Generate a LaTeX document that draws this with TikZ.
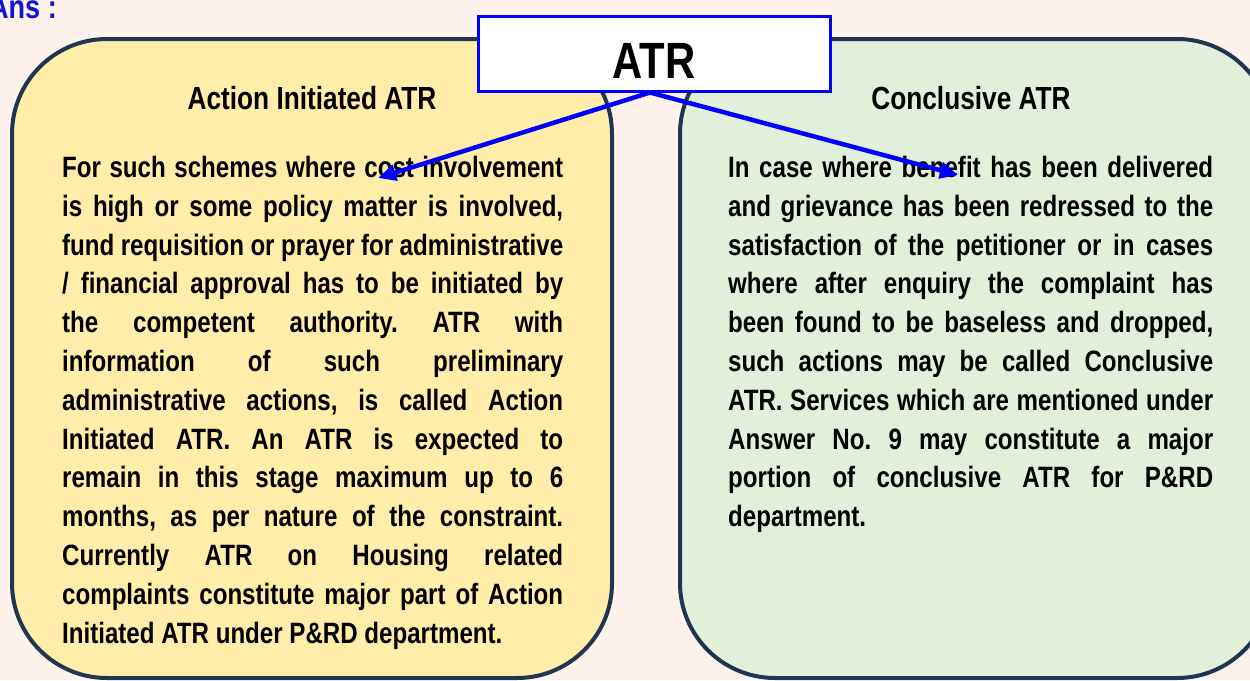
\documentclass[tikz,border=0pt]{standalone}
\usepackage{fontspec}
\setmainfont{Liberation Sans}[FakeStretch=0.82]
\usetikzlibrary{arrows.meta}
\definecolor{bgc}{HTML}{FDF3EC}
\definecolor{yelc}{HTML}{FFEDA9}
\definecolor{grnc}{HTML}{E2EFDA}
\definecolor{navyc}{HTML}{1F3552}
\definecolor{ansc}{HTML}{1414D2}
\frenchspacing
\newcommand\jline[2]{\makebox[#1][s]{#2}}
\tikzset{
  panel/.style={draw=navyc, line width=4pt, rounded corners=95pt},
  ttl/.style={font=\fontsize{32}{36}\selectfont\bfseries, anchor=base, inner sep=0},
  bodytxt/.style={font=\fontsize{29.4}{38.8}\selectfont\bfseries, align=left, anchor=north west, inner sep=0},
  arr/.style={draw=blue, line width=4.5pt, -{Triangle[length=18pt,width=16pt]}},
}
\begin{document}
\begin{tikzpicture}[x=1pt,y=-1pt]
\useasboundingbox (0,0) rectangle (1250,680);
\clip (0,0) rectangle (1250,680);
\fill[bgc] (0,0) rectangle (1250,680);
\node (ans) [anchor=base east, inner sep=0, text=ansc, font=\fontsize{33}{36}\selectfont\bfseries] at (57,18) {Ans :};
\draw[panel, fill=yelc] (12,39) rectangle (612,678);
\draw[panel, fill=grnc] (680,39) rectangle (1272,678);
\node (t1) [ttl] at (312,109) {Action Initiated ATR};
\node (t2) [ttl] at (971,109) {Conclusive ATR};
\node (b1) [bodytxt] at (62,156) {%
\jline{501pt}{For such schemes where cost involvement}\\
\jline{501pt}{is high or some policy matter is involved,}\\
\jline{501pt}{fund requisition or prayer for administrative}\\
\jline{501pt}{/ financial approval has to be initiated by}\\
\jline{501pt}{the competent authority. ATR with}\\
\jline{501pt}{information of such preliminary}\\
\jline{501pt}{administrative actions, is called Action}\\
\jline{501pt}{Initiated ATR. An ATR is expected to}\\
\jline{501pt}{remain in this stage maximum up to 6}\\
\jline{501pt}{months, as per nature of the constraint.}\\
\jline{501pt}{Currently ATR on Housing related}\\
\jline{501pt}{complaints constitute major part of Action}\\
Initiated ATR under P\&RD department.};
\node (b2) [bodytxt] at (728,156) {%
\jline{485pt}{In case where benefit has been delivered}\\
\jline{485pt}{and grievance has been redressed to the}\\
\jline{485pt}{satisfaction of the petitioner or in cases}\\
\jline{485pt}{where after enquiry the complaint has}\\
\jline{485pt}{been found to be baseless and dropped,}\\
\jline{485pt}{such actions may be called Conclusive}\\
\jline{485pt}{ATR. Services which are mentioned under}\\
\jline{485pt}{Answer No. 9 may constitute a major}\\
\jline{485pt}{portion of conclusive ATR for P\&RD}\\
department.};
\node (atr) [draw=blue, line width=3pt, fill=white, minimum width=352pt, minimum height=75pt, inner sep=0] at (654,53.5) {};
\node (atrlbl) [anchor=base, inner sep=0, font=\fontsize{51}{55}\selectfont\bfseries] at (654,78) {ATR};
\coordinate (tipL) at (378,178);
\coordinate (tipR) at (958,175);
\draw[arr] ([xshift=-4pt]atr.south) -- (tipL);
\draw[arr] ([xshift=-4pt]atr.south) -- (tipR);
\end{tikzpicture}
\end{document}
